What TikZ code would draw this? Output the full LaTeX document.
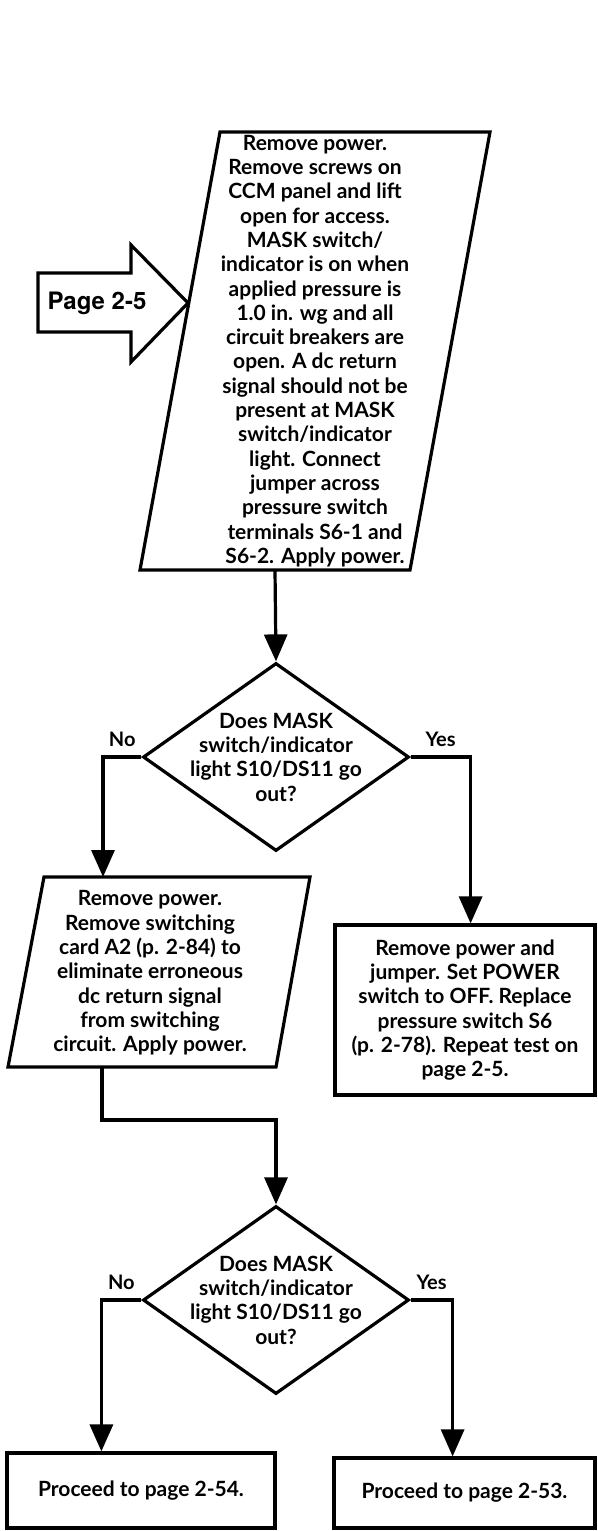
\documentclass[tikz,border=0pt]{standalone}
\usepackage{fontspec}
\setmainfont{Lato}
\newfontfamily\pagefont{TeX Gyre Heros}
\usetikzlibrary{arrows.meta,calc,positioning,shapes.geometric}

\begin{document}
\begin{tikzpicture}[x=1pt,y=-1pt,>={Triangle[length=27pt,width=23pt]},
  line width=3.2pt,line join=miter,
  txt/.style={align=center,inner sep=0pt,font=\bfseries\fontsize{21}{24.3}\selectfont},
  flow/.style={->},
  box/.style={draw,rectangle,txt},
  dia/.style={draw,diamond,minimum width=266pt,minimum height=188pt,inner sep=0pt},
  lbl/.style={above=9pt,inner sep=0pt,font=\bfseries\fontsize{20}{22}\selectfont}]
\useasboundingbox (0,0) rectangle (597,1531);

% off-page entry
\draw (38,273) -- (131,273) -- (131,245) -- (188,303) -- (131,362) -- (131,332) -- (38,332) -- cycle;
\node[inner sep=0pt,font=\pagefont\bfseries\fontsize{24}{24}\selectfont] (pg) at (97,303) {Page 2-5};

% first step
\draw (220,132) -- (490,132) -- (410,570) -- (140,570) -- cycle;
\node[txt] (p1) at (315,351) {Remove power.\\Remove screws on\\CCM panel and lift\\open for access.\\MASK switch/\\indicator is on when\\applied pressure is\\1.0 in. wg and all\\circuit breakers are\\open. A dc return\\signal should not be\\present at MASK\\switch/indicator\\light. Connect\\jumper across\\pressure switch\\terminals S6-1 and\\S6-2. Apply power.};
\coordinate (p1s) at (275,570);

% first test
\node[dia] (d1) at (276,757) {};
\node[txt] (d1t) at (d1) {Does MASK\\switch/indicator\\light S10/DS11 go\\out?};
\draw[flow] (p1s) -- (d1.north);

% no branch
\draw (44,877) -- (310,877) -- (276,1067) -- (8,1067) -- cycle;
\node[txt] (p2) at (150,973) {Remove power.\\Remove switching\\card A2 (p. 2-84) to\\eliminate erroneous\\dc return signal\\from switching\\circuit. Apply power.};
\coordinate (p2n) at (103,877);
\coordinate (p2s) at (102,1067);
\draw[flow] (d1.west) -- node[lbl]{No} (d1.west -| p2n) -- (p2n);

% yes branch
\node[box,minimum width=260pt,minimum height=170pt] (r1) at (465,1010) {Remove power and\\jumper. Set POWER\\switch to OFF. Replace\\pressure switch S6\\(p. 2-78). Repeat test on\\page 2-5.};
\draw[flow] (d1.east) -- node[lbl]{Yes} ++(60,0) coordinate (yr) -- (yr |- r1.north);

% second test
\node[dia] (d2) at (276,1300) {};
\node[txt] (d2t) at (d2) {Does MASK\\switch/indicator\\light S10/DS11 go\\out?};
\draw[flow] (p2s) -- ++(0,53) -| (d2.north);

\node[box,minimum width=268pt,minimum height=75pt] (b1) at (141,1490.5) {Proceed to page 2-54.};
\node[box,minimum width=261pt,minimum height=70pt] (b2) at (464.5,1493) {Proceed to page 2-53.};
\draw[flow] (d2.west) -- node[lbl]{No} ++(-40,0) coordinate (nl) -- (nl |- b1.north);
\draw[flow] (d2.east) -- node[lbl]{Yes} ++(42,0) coordinate (nr) -- (nr |- b2.north);
\end{tikzpicture}
\end{document}
